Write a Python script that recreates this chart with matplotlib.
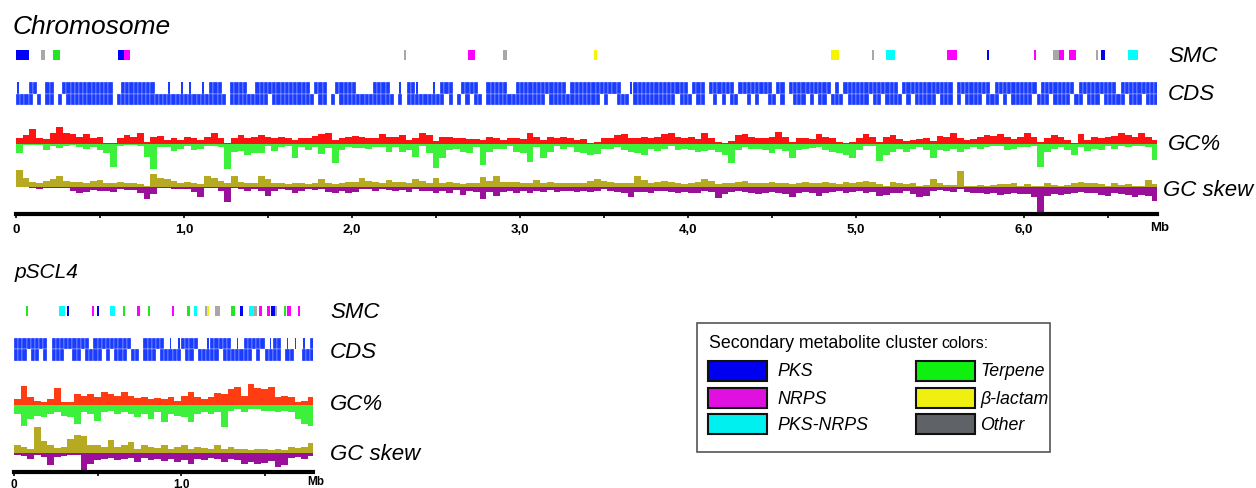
import matplotlib
matplotlib.use('Agg')
import matplotlib.pyplot as plt
from matplotlib.patches import Rectangle
import numpy as np

plt.rcParams['font.family'] = ['Liberation Sans', 'DejaVu Sans']

W, H = 1256, 489

# ---------------- data ----------------
chr_len = 6.79
pl_len = 1.79
bin_mb = 0.04     # GC window
cell_mb = 0.025   # CDS mask cell

smc_types = ['PKS', 'NRPS', 'PKS-NRPS', 'Terpene', 'β-lactam', 'Other']
track_colors = ['#0000ff', '#ff00ff', '#00ffff', '#22e622', '#f5f500', '#a8a8a8']
legend_colors = ['#0000f0', '#e010e0', '#00f0f0', '#10f010', '#f0f010', '#5f6368']

chr_smc = [
    (0.00, 0.08, 'PKS'), (0.15, 0.17, 'Other'), (0.22, 0.26, 'Terpene'),
    (0.61, 0.64, 'PKS'), (0.64, 0.68, 'NRPS'), (2.31, 2.32, 'Other'),
    (2.69, 2.73, 'NRPS'), (2.90, 2.92, 'Other'), (3.44, 3.46, 'β-lactam'),
    (4.85, 4.90, 'β-lactam'), (5.095, 5.107, 'Other'), (5.18, 5.23, 'PKS-NRPS'),
    (5.54, 5.60, 'NRPS'), (5.78, 5.79, 'PKS'), (6.06, 6.07, 'NRPS'),
    (6.17, 6.21, 'Other'), (6.21, 6.24, 'NRPS'), (6.27, 6.31, 'NRPS'),
    (6.43, 6.44, 'Other'), (6.46, 6.48, 'PKS'), (6.62, 6.68, 'PKS-NRPS'),
]

pl_smc = [
    (0.074, 0.084, 'Terpene'), (0.267, 0.307, 'PKS-NRPS'), (0.315, 0.327, 'PKS'),
    (0.467, 0.479, 'NRPS'), (0.495, 0.507, 'PKS'), (0.573, 0.603, 'PKS-NRPS'),
    (0.651, 0.666, 'Terpene'), (0.737, 0.756, 'NRPS'), (0.802, 0.814, 'Terpene'),
    (0.948, 0.956, 'NRPS'), (1.036, 1.056, 'Terpene'), (1.078, 1.094, 'PKS-NRPS'),
    (1.142, 1.154, 'Other'), (1.154, 1.170, 'β-lactam'), (1.202, 1.234, 'Other'),
    (1.300, 1.325, 'Terpene'), (1.355, 1.373, 'PKS'), (1.405, 1.437, 'PKS-NRPS'),
    (1.437, 1.453, 'Other'), (1.465, 1.485, 'NRPS'), (1.513, 1.531, 'NRPS'),
    (1.541, 1.561, 'PKS'), (1.561, 1.577, 'Other'), (1.615, 1.630, 'Terpene'),
    (1.636, 1.657, 'NRPS'), (1.700, 1.713, 'NRPS'),
]

# CDS masks, one char per 0.025 Mb: '#' genes, '|' single short gene, '.' none
chr_cds_plus = ("|..##..##..############..########...|..|"
                ".|..|.###..####..#############.###..####"
                "#....####..|.##|...|.###..####..#####..#"
                "###########.############..|#############"
                ".###.######.########.##.##########.#.###"
                "##########.############.########.#######"
                "###.########.#########.#########")
chr_cds_minus = ("####.#.##.#.###########.################"
                 "##########.#########.##########.##.#.###"
                 "##########.#.#########.#.#.#.##.########"
                 "######.############.#..###.##########.##"
                 "#.##..#.#.##..#.#..##.#..###.#.##.###.##"
                 "###.##.####.#.#####.###.#.####.###.#.###"
                 "##.###.####.##.###.#####.###.###")
pl_cds_plus = "########.#########.#########...#####.|.|####..|#####.|.#####.|##.|.|.|.#"
pl_cds_minus = "###.##.#.###..##.####.#.###.##.###.#####.##.#####.#######.#.####.##..###"

# GC% above / below mean per 0.04 Mb window (pixel-ish units)
chr_gc_up = [6, 9, 15, 6, 5, 11, 17, 11, 10, 7, 10, 6, 7, 1, 1, 6, 9, 7, 11, 2,
             7, 8, 4, 6, 4, 7, 6, 4, 7, 11, 6, 1, 6, 9, 6, 7, 9, 7, 6, 7, 6, 4, 6,
             6, 8, 10, 11, 4, 6, 7, 8, 7, 6, 6, 10, 7, 7, 9, 4, 6, 11, 9, 3,
             7, 7, 6, 6, 5, 5, 4, 7, 6, 4, 6, 6, 5, 11, 7, 4, 7, 6, 7, 6, 4, 5,
             1, 2, 6, 6, 9, 10, 6, 6, 7, 6, 7, 10, 11, 7, 6, 7, 5, 11, 6, 2,
             1, 3, 9, 10, 7, 6, 6, 7, 12, 7, 2, 6, 6, 5, 10, 7, 6, 2, 1, 2, 6, 10, 7,
             2, 7, 9, 5, 3, 4, 5, 6, 3, 8, 7, 11, 6, 4, 5, 7, 9, 8, 10, 7,
             5, 7, 11, 7, 2, 6, 9, 7, 4, 1, 10, 4, 7, 6, 7, 8, 11, 9, 7, 11, 7, 4]
chr_gc_down = [9, 1, 1, 1, 6, 2, 4, 2, 1, 3, 5, 3, 6, 9, 23, 2, 1, 1, 2, 13,
               25, 3, 3, 7, 5, 2, 6, 5, 2, 2, 3, 25, 8, 7, 11, 9, 9, 2, 7, 3, 2, 14, 3,
               6, 3, 10, 4, 19, 6, 3, 4, 4, 5, 3, 3, 8, 3, 8, 6, 13, 2, 9, 24,
               14, 6, 5, 8, 9, 3, 21, 8, 5, 5, 2, 8, 9, 18, 3, 14, 8, 2, 5, 3, 8, 9,
               11, 10, 5, 5, 3, 6, 8, 9, 11, 5, 7, 5, 2, 6, 5, 6, 8, 7, 6, 8,
               11, 19, 6, 3, 5, 5, 6, 9, 5, 7, 14, 6, 5, 4, 3, 6, 8, 9, 11, 14, 6, 2, 2,
               17, 11, 8, 5, 8, 5, 3, 6, 14, 6, 7, 5, 8, 5, 3, 5, 3, 2, 2, 6,
               5, 3, 3, 2, 23, 8, 5, 3, 6, 11, 3, 7, 5, 6, 2, 5, 2, 3, 2, 2, 3, 16]
chr_skew_up = [17, 9, 5, 4, 6, 8, 11, 6, 5, 5, 4, 6, 7, 4, 4, 5, 4, 4, 3, 1,
               13, 9, 8, 6, 4, 5, 4, 3, 11, 9, 6, 4, 11, 5, 4, 4, 11, 8, 4, 4, 3, 4, 4,
               3, 4, 8, 4, 3, 4, 5, 5, 9, 6, 5, 4, 7, 5, 5, 4, 8, 6, 4, 9,
               4, 5, 4, 3, 4, 4, 10, 6, 11, 5, 5, 5, 4, 4, 7, 4, 5, 4, 4, 4, 4, 4,
               6, 8, 6, 5, 4, 4, 4, 11, 7, 4, 5, 6, 5, 4, 3, 4, 5, 8, 6, 3,
               4, 4, 5, 6, 4, 4, 4, 5, 4, 4, 3, 4, 5, 4, 4, 5, 4, 3, 5, 4, 5, 6, 5,
               3, 1, 5, 4, 3, 4, 1, 2, 8, 4, 2, 2, 16, 1, 1, 2, 1, 2, 3, 3,
               4, 1, 3, 1, 1, 4, 2, 1, 2, 4, 5, 4, 4, 3, 1, 4, 2, 3, 1, 1, 7, 3]
chr_skew_down = [0, 0, 1, 2, 1, 1, 1, 1, 4, 6, 5, 3, 4, 4, 5, 2, 3, 3, 6, 12,
                 7, 1, 1, 2, 2, 2, 5, 10, 1, 1, 4, 15, 1, 2, 4, 2, 4, 9, 4, 2, 3, 6, 4,
                 2, 3, 2, 5, 6, 4, 6, 5, 2, 2, 4, 2, 3, 4, 3, 5, 2, 4, 4, 6,
                 4, 6, 3, 8, 4, 5, 12, 5, 9, 5, 4, 6, 4, 6, 4, 5, 3, 5, 4, 4, 5, 4,
                 5, 4, 2, 4, 5, 6, 10, 5, 5, 6, 4, 4, 5, 6, 5, 6, 6, 4, 5, 11,
                 7, 5, 4, 5, 6, 7, 6, 5, 6, 7, 10, 6, 5, 6, 9, 6, 5, 4, 6, 5, 4, 6, 5,
                 9, 8, 6, 6, 4, 7, 10, 9, 4, 3, 4, 5, 2, 5, 6, 6, 7, 6, 8, 7,
                 6, 7, 7, 10, 26, 9, 7, 8, 7, 6, 5, 6, 6, 8, 9, 6, 7, 8, 10, 8, 9, 14]

pl_gc_up = [6, 19, 8, 4, 3, 6, 17, 3, 3, 11, 9, 11, 8, 13, 11, 9, 13, 9, 7, 8,
            6, 7, 6, 8, 4, 9, 13, 8, 6, 8, 12, 11, 16, 18, 9, 21, 17, 16, 18, 8,
            9, 8, 3, 4, 8]
pl_gc_down = [9, 21, 14, 11, 12, 9, 7, 11, 12, 19, 7, 9, 16, 7, 6, 9, 7, 9, 12, 9,
              14, 7, 17, 9, 11, 12, 17, 9, 7, 9, 7, 22, 6, 4, 7, 4, 4, 6, 6, 7,
              6, 7, 14, 19, 21]
pl_skew_up = [8, 6, 4, 26, 12, 8, 5, 6, 14, 18, 17, 8, 8, 6, 13, 6, 8, 11, 4, 8,
              6, 5, 8, 4, 6, 8, 4, 6, 5, 4, 8, 4, 6, 4, 4, 3, 4, 4, 3, 4,
              3, 6, 5, 6, 10]
pl_skew_down = [2, 3, 6, 2, 4, 12, 4, 3, 2, 2, 17, 11, 7, 6, 5, 7, 6, 5, 9, 5,
                7, 6, 8, 6, 9, 7, 11, 6, 7, 5, 6, 9, 6, 7, 11, 9, 11, 10, 8, 14,
                12, 5, 4, 6, 3]

# ---------------- drawing ----------------
CDS_BLUE = '#1a3cff'
GREEN = '#3cf03c'
OLIVE = '#b5aa22'
PURPLE = '#9a109a'


def px_box(x0, y0, x1, y1):
    return [x0 / W, 1 - y1 / H, (x1 - x0) / W, (y1 - y0) / H]


def draw_cds(ax, mask, y0, y1):
    full = [i * cell_mb for i, c in enumerate(mask) if c == '#']
    thin = [i * cell_mb + cell_mb * 0.3 for i, c in enumerate(mask) if c == '|']
    ax.bar(full, y1 - y0, width=cell_mb, bottom=y0, align='edge',
           color=CDS_BLUE, edgecolor='white', linewidth=0.2)
    ax.bar(thin, y1 - y0, width=cell_mb * 0.35, bottom=y0, align='edge',
           color=CDS_BLUE, linewidth=0)


def draw_profile(ax, up, down, base, c_up, c_down):
    x = np.arange(len(up)) * bin_mb
    ax.bar(x, -np.array(up), width=bin_mb, bottom=base, align='edge', color=c_up, linewidth=0)
    ax.bar(x, np.array(down), width=bin_mb, bottom=base, align='edge', color=c_down, linewidth=0)


def draw_genome(ax, smc, cds_p, cds_m, gc_up, gc_dn, sk_up, sk_dn, lay, up_color):
    s0, s1 = lay['smc']
    for t, col in zip(smc_types, track_colors):
        spans = [(a, b - a) for a, b, k in smc if k == t]
        if spans:
            ax.broken_barh(spans, (s0, s1 - s0), facecolors=col, linewidth=0)
    c0, cm, c1 = lay['cds']
    draw_cds(ax, cds_p, c0, cm)
    draw_cds(ax, cds_m, cm, c1)
    draw_profile(ax, gc_up, gc_dn, lay['gc'], up_color, GREEN)
    draw_profile(ax, sk_up, sk_dn, lay['skew'], OLIVE, PURPLE)
    for side in ['left', 'right', 'top']:
        ax.spines[side].set_visible(False)
    ax.spines['bottom'].set_linewidth(3)
    ax.set_yticks([])
    ax.tick_params(axis='x', which='both', direction='out', length=3, width=1.2,
                   labelsize=lay['tick_size'], pad=lay['pad'])
    ax.patch.set_alpha(0)


fig = plt.figure(figsize=(W / 100, H / 100), dpi=100)

# chromosome
ax_c = fig.add_axes(px_box(16, 44, 16 + chr_len * 168, 214.5))
ax_c.set_xlim(0, chr_len)
ax_c.set_ylim(214.5, 44)
ax_c.set_xticks(range(7))
ax_c.set_xticklabels(['0', '1,0', '2,0', '3,0', '4,0', '5,0', '6,0'], fontweight='bold')
ax_c.set_xticks(np.arange(0.5, chr_len, 1.0), minor=True)
draw_genome(ax_c, chr_smc, chr_cds_plus, chr_cds_minus, chr_gc_up, chr_gc_down,
            chr_skew_up, chr_skew_down,
            {'smc': (51, 61), 'cds': (83, 94.5, 106), 'gc': 144.7, 'skew': 188.3,
             'tick_size': 9.5, 'pad': 3.5},
            '#ff1212')

# plasmid
ax_p = fig.add_axes(px_box(14, 300, 14 + pl_len * 167, 473))
ax_p.set_xlim(0, pl_len)
ax_p.set_ylim(473, 300)
ax_p.set_xticks([0, 1])
ax_p.set_xticklabels(['0', '1.0'], fontweight='bold')
ax_p.set_xticks([0.5, 1.5], minor=True)
draw_genome(ax_p, pl_smc, pl_cds_plus, pl_cds_minus, pl_gc_up, pl_gc_down,
            pl_skew_up, pl_skew_down,
            {'smc': (307, 317), 'cds': (339, 350, 362), 'gc': 406, 'skew': 454.3,
             'tick_size': 8.5, 'pad': 1},
            '#ff3c12')

# overlay for labels and legend, in pixel units
ov = fig.add_axes([0, 0, 1, 1])
ov.set_xlim(0, W)
ov.set_ylim(H, 0)
ov.axis('off')

ov.text(13, 27, 'Chromosome', fontsize=19, style='italic', va='center')
ov.text(15, 272, 'pSCL4', fontsize=15, style='italic', va='center')
for txt, x, y in [('SMC', 1168, 57), ('CDS', 1168, 95), ('GC%', 1168, 145), ('GC skew', 1163, 190),
                  ('SMC', 330, 312), ('CDS', 330, 352), ('GC%', 330, 405), ('GC skew', 330, 454)]:
    ov.text(x, y, txt, fontsize=16, style='italic', va='center')
ov.text(1160, 228, 'Mb', fontsize=9.5, fontweight='bold', ha='center', va='center')
ov.text(316, 482, 'Mb', fontsize=8.5, fontweight='bold', ha='center', va='center')

# legend box
ov.add_patch(Rectangle((697, 324), 353, 129, fill=False, edgecolor='#555555', linewidth=1.2))
t = ov.text(709, 348, 'Secondary metabolite cluster', fontsize=12.8, va='baseline')
fig.canvas.draw()
bb = t.get_window_extent()
ov.text(bb.x1 + 4, 348, 'colors:', fontsize=11.5, va='baseline')
rows_y = [362, 389, 415]
for col, (sx, tx) in enumerate([(708, 777), (916, 980)]):
    for r in range(3):
        i = col * 3 + r
        ov.add_patch(Rectangle((sx, rows_y[r]), 59, 20, facecolor=legend_colors[i],
                               edgecolor='#111111', linewidth=1.5))
        ov.text(tx, rows_y[r] + 10, smc_types[i], fontsize=12.8, style='italic', va='center')

fig.savefig('out.png', dpi=100)
